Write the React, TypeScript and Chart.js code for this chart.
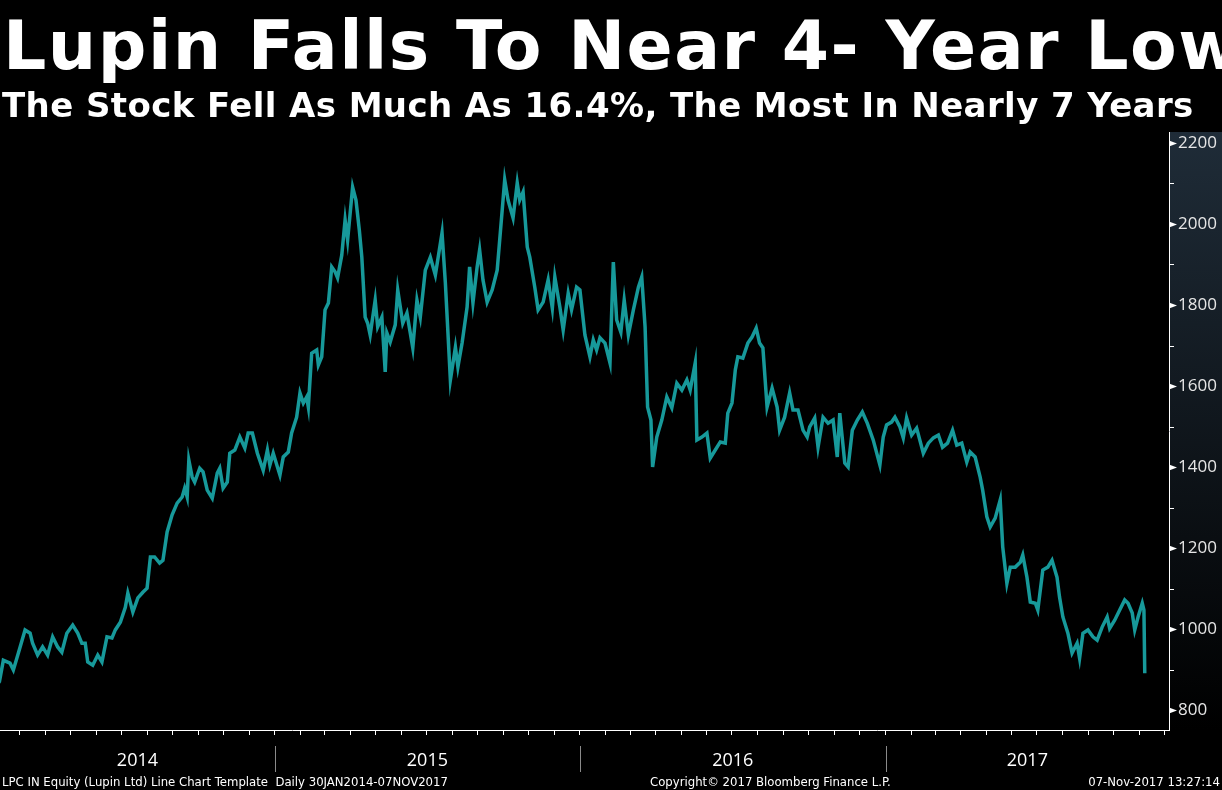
import { useEffect, useRef } from "react";
import { Chart, registerables } from "chart.js";

Chart.register(...registerables);

// days since 2014-01-01 (30 Jan 2014 .. 07 Nov 2017)
const DAYS = [
  29, 36, 40, 48, 52, 58, 66, 72, 75, 81, 87, 93, 99, 105, 110, 116, 123, 129, 134, 138, 141, 147, 153, 158, 164,
  170, 174, 180, 186, 189, 195, 201, 207, 212, 216, 221, 227, 231, 236, 242, 248, 254, 257, 260, 262, 266, 269,
  275, 279, 284, 290, 296, 299, 303, 308, 311, 317, 323, 329, 333, 338, 344, 351, 356, 359, 363, 371, 375, 381,
  385, 391, 395, 399, 403, 405, 409, 415, 417, 421, 425, 429, 433, 437, 440, 445, 449, 452, 458, 462, 466, 469,
  473, 476, 479, 485, 488, 493, 497, 499, 503, 509, 512, 518, 523, 530, 535, 539, 545, 551, 557, 565, 569, 575,
  581, 584, 589, 595, 598, 602, 607, 610, 614, 619, 625, 631, 637, 640, 644, 650, 655, 658, 662, 667, 670, 676,
  680, 686, 692, 697, 700, 706, 710, 716, 720, 726, 730, 736, 742, 746, 750, 754, 760, 766, 770, 774, 779, 783,
  788, 794, 800, 804, 808, 811, 815, 817, 822, 828, 834, 840, 846, 852, 858, 862, 868, 870, 876, 882, 886, 892,
  898, 904, 907, 912, 916, 919, 925, 931, 936, 941, 945, 949, 954, 960, 966, 969, 975, 981, 985, 991, 997, 1002,
  1005, 1011, 1015, 1021, 1027, 1033, 1038, 1041, 1047, 1051, 1056, 1062, 1068, 1074, 1081, 1089, 1093, 1097,
  1103, 1107, 1113, 1117, 1121, 1127, 1133, 1141, 1147, 1153, 1159, 1164, 1170, 1176, 1181, 1187, 1193, 1197,
  1203, 1209, 1212, 1217, 1221, 1227, 1233, 1236, 1241, 1245, 1251, 1257, 1260, 1265, 1269, 1275, 1278, 1284,
  1290, 1295, 1301, 1304, 1308, 1314, 1319, 1325, 1328, 1332, 1338, 1344, 1349, 1355, 1361, 1364, 1370, 1376,
  1382, 1386, 1391, 1394, 1398, 1403, 1405, 1406,
];

const PRICES = [
  905, 878, 923, 916, 899, 941, 998, 990, 965, 936, 956, 936, 981, 956, 943, 990, 1010, 990, 965, 965, 919, 911,
  936, 919, 981, 978, 998, 1017, 1054, 1089, 1042, 1077, 1091, 1101, 1178, 1178, 1163, 1170, 1240, 1282, 1311,
  1326, 1348, 1326, 1417, 1375, 1363, 1397, 1388, 1343, 1323, 1385, 1397, 1348, 1363, 1434, 1442, 1474, 1447,
  1484, 1484, 1434, 1392, 1442, 1405, 1434, 1380, 1425, 1437, 1484, 1523, 1583, 1558, 1573, 1548, 1681, 1689,
  1652, 1672, 1788, 1805, 1894, 1882, 1867, 1923, 2010, 1960, 2091, 2059, 1985, 1918, 1770, 1755, 1726, 1812,
  1746, 1770, 1635, 1731, 1709, 1751, 1837, 1755, 1780, 1694, 1812, 1770, 1886, 1918, 1874, 1978, 1854, 1615,
  1696, 1647, 1706, 1795, 1894, 1805, 1894, 1936, 1862, 1807, 1837, 1886, 2034, 2109, 2059, 2015, 2101, 2059,
  2079, 1943, 1918, 1844, 1788, 1807, 1862, 1792, 1869, 1795, 1738, 1829, 1788, 1844, 1837, 1726, 1672, 1714,
  1689, 1719, 1706, 1657, 1906, 1763, 1733, 1812, 1726, 1788, 1844, 1869, 1746, 1548, 1516, 1400, 1474, 1516,
  1573, 1546, 1607, 1590, 1615, 1590, 1657, 1467, 1474, 1484, 1422, 1442, 1462, 1459, 1533, 1558, 1640, 1672,
  1669, 1706, 1721, 1743, 1706, 1694, 1548, 1595, 1548, 1491, 1523, 1583, 1541, 1541, 1491, 1474, 1499, 1521,
  1449, 1523, 1508, 1516, 1425, 1533, 1410, 1400, 1491, 1516, 1536, 1508, 1467, 1405, 1474, 1504, 1511, 1523,
  1499, 1472, 1521, 1479, 1496, 1434, 1459, 1472, 1479, 1449, 1459, 1491, 1454, 1459, 1412, 1437, 1425, 1375,
  1343, 1277, 1252, 1274, 1319, 1203, 1113, 1153, 1153, 1165, 1183, 1128, 1067, 1064, 1047, 1146, 1153, 1170,
  1128, 1079, 1030, 990, 941, 965, 928, 990, 998, 981, 973, 1005, 1030, 1002, 1022, 1047, 1072, 1064, 1040, 998,
  1030, 1064, 1047, 891,
];

const YEARS = ["2014", "2015", "2016", "2017"];
const Y_TICKS = [800, 900, 1000, 1100, 1200, 1300, 1400, 1500, 1600, 1700, 1800, 1900, 2000, 2100, 2200];

const X_MIN = 36;
const X_MAX = 1435;
const Y_MIN = 751;
const Y_MAX = 2227;

const dayOf = (y: number, m: number) => (Date.UTC(y, m, 1) - Date.UTC(2014, 0, 1)) / 86400000;
const MONTH_STARTS: number[] = [];
for (let y = 2014; y <= 2017; y++) for (let m = 0; m < 12; m++) MONTH_STARTS.push(dayOf(y, m));
const YEAR_STARTS = [2014, 2015, 2016, 2017, 2018].map((y) => dayOf(y, 0));
// year labels sit in the middle of the visible part of each year
const YEAR_CENTERS = YEARS.map((_, i) => {
  const a = Math.max(YEAR_STARTS[i], X_MIN);
  const b = Math.min(YEAR_STARTS[i + 1], X_MAX);
  return (a + b) / 2;
});

const decor = {
  id: "decor",
  beforeDraw(chart: any) {
    const { ctx, chartArea, width, height } = chart;
    ctx.save();
    ctx.fillStyle = "#000";
    ctx.fillRect(0, 0, width, height);
    const g = ctx.createLinearGradient(0, chartArea.top, 0, chartArea.bottom);
    g.addColorStop(0, "#1f2c38");
    g.addColorStop(1, "#000000");
    ctx.fillStyle = g;
    ctx.fillRect(chartArea.right, chartArea.top, width - chartArea.right, chartArea.bottom - chartArea.top);
    ctx.restore();
  },
  afterDraw(chart: any) {
    const { ctx, chartArea, scales } = chart;
    const y = scales.y;
    const x = scales.x;
    ctx.save();
    ctx.fillStyle = "#fff";
    ctx.strokeStyle = "#fff";
    ctx.lineWidth = 1;
    Y_TICKS.forEach((v) => {
      const py = Math.round(y.getPixelForValue(v)) + 0.5;
      const px = chartArea.right;
      if (v % 200 === 0) {
        ctx.beginPath();
        ctx.moveTo(px, py - 3);
        ctx.lineTo(px + 8, py);
        ctx.lineTo(px, py + 3);
        ctx.closePath();
        ctx.fill();
      } else {
        ctx.beginPath();
        ctx.moveTo(px, py);
        ctx.lineTo(px + 5, py);
        ctx.stroke();
      }
    });
    ctx.strokeStyle = "#8a8a8a";
    YEAR_STARTS.forEach((d) => {
      if (d <= X_MIN || d >= X_MAX) return;
      const px = Math.round(x.getPixelForValue(d)) + 0.5;
      ctx.beginPath();
      ctx.moveTo(px, chartArea.bottom + 16);
      ctx.lineTo(px, chartArea.bottom + 42);
      ctx.stroke();
    });
    ctx.restore();
  },
};

const LupinChart = () => {
  const canvasRef = useRef<HTMLCanvasElement>(null);

  useEffect(() => {
    if (!canvasRef.current) return;
    const chart = new Chart(canvasRef.current, {
      type: "line",
      data: {
        datasets: [
          {
            label: "LPC IN Equity",
            data: DAYS.map((d, i) => ({ x: d, y: PRICES[i] })),
            borderColor: "#17999a",
            borderWidth: 3.5,
            pointRadius: 0,
            tension: 0,
            fill: false,
          },
        ],
      },
      options: {
        animation: false,
        responsive: false,
        devicePixelRatio: 1,
        layout: { padding: { top: 132, left: 0, right: 0, bottom: 0 } },
        plugins: { legend: { display: false }, tooltip: { enabled: false }, title: { display: false } },
        scales: {
          x: {
            type: "linear",
            min: X_MIN,
            max: X_MAX,
            position: "bottom",
            afterBuildTicks: (s: any) => {
              s.ticks = MONTH_STARTS.filter((d) => d >= X_MIN && d <= X_MAX).map((v) => ({ value: v }));
            },
            ticks: { display: false },
            grid: { display: true, drawOnChartArea: false, drawTicks: true, tickLength: 5, color: "#ffffff" },
            border: { display: true, color: "#ffffff", width: 1 },
            afterFit: (s: any) => {
              s.height = 6;
            },
          },
          years: {
            type: "linear",
            min: X_MIN,
            max: X_MAX,
            position: "bottom",
            afterBuildTicks: (s: any) => {
              s.ticks = YEAR_CENTERS.map((v) => ({ value: v }));
            },
            afterTickToLabelConversion: (s: any) => {
              s.ticks.forEach((t: any, i: number) => (t.label = YEARS[i]));
            },
            ticks: {
              autoSkip: false,
              maxRotation: 0,
              color: "#ffffff",
              padding: 14,
              font: { family: "'Open Sans', 'DejaVu Sans', sans-serif", size: 18 },
            },
            grid: { display: false, drawTicks: false },
            border: { display: false },
            afterFit: (s: any) => {
              s.height = 54;
            },
          },
          y: {
            type: "linear",
            position: "right",
            min: Y_MIN,
            max: Y_MAX,
            afterBuildTicks: (s: any) => {
              s.ticks = Y_TICKS.map((v) => ({ value: v }));
            },
            ticks: {
              color: "#e6e6e6",
              padding: 9,
              font: { family: "'Open Sans', 'DejaVu Sans', sans-serif", size: 17 },
              callback: (v: any) => (Number(v) % 200 === 0 ? String(v) : ""),
            },
            grid: { display: false, drawTicks: false },
            border: { display: true, color: "#ffffff", width: 1 },
            afterFit: (s: any) => {
              s.width = 53;
            },
          },
        },
      },
      plugins: [decor],
    });
    return () => {
      chart.destroy();
    };
  }, []);

  return <canvas ref={canvasRef} width={1222} height={790} style={{ position: "absolute", left: 0, top: 0 }} />;
};

const footerFont = "'Liberation Sans Narrow', 'DejaVu Sans Condensed', sans-serif";

export default function App() {
  return (
    <div
      style={{
        position: "fixed",
        left: 0,
        top: 0,
        width: 1222,
        height: 790,
        background: "#000",
        overflow: "hidden",
        color: "#fff",
      }}
    >
      <LupinChart />
      <div
        style={{
          position: "absolute",
          left: 3,
          top: 12,
          fontFamily: "'DejaVu Sans', sans-serif",
          fontWeight: "bold",
          fontSize: 68,
          lineHeight: "68px",
          letterSpacing: "1.5px",
          whiteSpace: "nowrap",
        }}
      >
        Lupin Falls To Near 4- Year Low
      </div>
      <div
        style={{
          position: "absolute",
          left: 2,
          top: 88,
          fontFamily: "'DejaVu Sans', sans-serif",
          fontWeight: "bold",
          fontSize: 34,
          lineHeight: "34px",
          letterSpacing: "0.4px",
          whiteSpace: "nowrap",
        }}
      >
        The Stock Fell As Much As 16.4%, The Most In Nearly 7 Years
      </div>
      <div style={{ position: "absolute", left: 2, top: 774, fontFamily: footerFont, fontSize: 13, lineHeight: "16px", whiteSpace: "pre" }}>
        {"LPC IN Equity (Lupin Ltd) Line Chart Template  Daily 30JAN2014-07NOV2017"}
      </div>
      <div style={{ position: "absolute", left: 650, top: 774, fontFamily: footerFont, fontSize: 13, lineHeight: "16px", whiteSpace: "pre" }}>
        Copyright© 2017 Bloomberg Finance L.P.
      </div>
      <div style={{ position: "absolute", right: 2, top: 774, fontFamily: footerFont, fontSize: 13, lineHeight: "16px", whiteSpace: "pre" }}>
        07-Nov-2017 13:27:14
      </div>
    </div>
  );
}
